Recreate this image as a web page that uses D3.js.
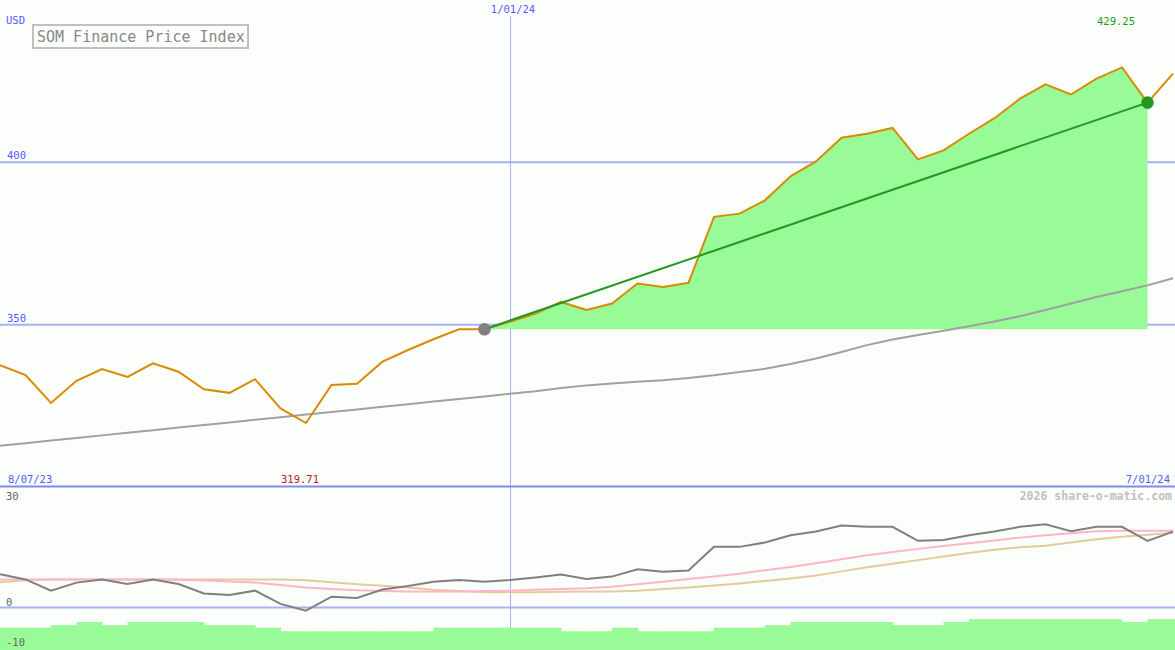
<!DOCTYPE html>
<html><head><meta charset="utf-8">
<script src="https://cdn.jsdelivr.net/npm/d3@7/dist/d3.min.js"></script>
<style>body{margin:0;background:#fcfefc}svg{display:block}</style>
</head><body><svg id="c" width="1175" height="650"></svg>
<script>
// weekly closes of the index
const price = [337.5,334.5,325.9,332.7,336.3,333.9,338.1,335.5,330.1,329.0,
  333.2,324.2,319.71,331.4,331.8,338.6,342.2,345.5,348.6,348.6,
  350.9,353.4,357.0,354.5,356.5,362.7,361.6,362.9,383.2,384.2,
  388.3,395.7,400.3,407.6,408.8,410.6,400.9,403.7,408.8,413.6,
  419.6,424.0,420.9,425.8,429.25,418.4,427.3];
// long moving average (grey)
const priceMA = [312.7,313.5,314.3,315.1,315.9,316.7,317.5,318.3,319.1,319.9,
  320.7,321.5,322.3,323.1,323.9,324.7,325.5,326.3,327.1,327.9,
  328.7,329.5,330.5,331.3,331.9,332.4,332.9,333.6,334.4,335.4,
  336.4,337.9,339.6,341.6,343.7,345.4,346.8,348.1,349.5,351.0,
  352.6,354.5,356.5,358.5,360.3,362.1,364.3];
// lower panel oscillator (grey)
const osc = [8.3,7.0,4.2,6.2,7.0,5.85,7.0,5.85,3.5,3.1,
  4.2,0.9,-0.8,2.7,2.4,4.5,5.35,6.4,6.85,6.4,
  6.85,7.5,8.2,7.1,7.7,9.5,8.9,9.2,15.1,15.1,
  16.2,18.0,18.9,20.4,20.1,20.1,16.6,16.8,18.0,18.9,
  20.1,20.7,19.0,20.1,20.1,16.6,18.9];
// oscillator averages
const oscFast = [7,7,7,7,7,7,7,6.9,6.7,6.5,
  6.2,5.6,5.0,4.6,4.3,4.1,4.0,4.0,4.0,4.1,
  4.2,4.4,4.6,4.8,5.2,5.8,6.4,7.1,7.7,8.4,
  9.3,10.1,11.0,12.0,13.0,13.8,14.6,15.3,16.0,16.7,
  17.4,18.0,18.5,19.0,19.1,19.1,19.1];
const oscSlow = [6.3,6.8,7,7,7,7,7,7,7,7,
  7,7,6.8,6.3,5.8,5.4,5.0,4.4,4.1,3.8,
  3.8,3.8,3.9,4.0,4.0,4.2,4.6,5.0,5.5,6.0,
  6.6,7.2,8.0,9.0,10.0,10.9,11.8,12.7,13.6,14.4,
  15.0,15.4,16.2,17.0,17.6,18.1,18.6];
// lower panel bars
const bars = [-5.0,-5.0,-4.4,-3.6,-4.4,-3.6,-3.6,-3.6,-4.4,-4.4,
  -5.0,-5.9,-5.9,-5.9,-5.9,-5.9,-5.9,-5.0,-5.0,-5.0,
  -5.0,-5.0,-5.9,-5.9,-5.0,-5.9,-5.9,-5.9,-5.0,-5.0,
  -4.4,-3.6,-3.6,-3.6,-3.6,-4.4,-4.4,-3.6,-2.9,-2.9,
  -2.9,-2.9,-2.9,-2.9,-3.6,-2.9,-2.9];
const priceTicks = [350, 400];
const oscTicks = [30, 0, -10];
const dateLabels = ["8/07/23", "1/01/24", "7/01/24"];
const markIndex = 20;      // 1/01/24
const trendStart = 19, trendEnd = 45;

const W = 1175, H = 650;
const svg = d3.select("#c");
const mono = "'DejaVu Sans Mono', monospace";
const blue = "#4f5cff", grid = "#a6b2f4";

const x = d3.scaleLinear().domain([0, price.length - 1]).range([0, 1173]);
const y = d3.scaleLinear().domain([300, 450]).range([487, 0]);
const y2 = d3.scaleLinear().domain([-10, 30]).range([647.7, 487]);

svg.append("rect").attr("width", W).attr("height", H).attr("fill", "#fcfefc");

// grid lines
svg.selectAll(".pg").data(priceTicks).join("line")
  .attr("x1", 0).attr("x2", W).attr("y1", d => y(d)).attr("y2", d => y(d))
  .attr("stroke", grid).attr("stroke-width", 2);
svg.append("line").attr("x1", 0).attr("x2", W).attr("y1", y2(0)).attr("y2", y2(0))
  .attr("stroke", grid).attr("stroke-width", 2);
// vertical marker
svg.append("line").attr("x1", x(markIndex) + 0.5).attr("x2", x(markIndex) + 0.5)
  .attr("y1", 16).attr("y2", H).attr("stroke", grid).attr("stroke-width", 1);

// gain area
const seg = d3.range(trendStart, trendEnd + 1);
const base = price[trendStart];
svg.append("path").datum(seg)
  .attr("d", d3.area().x(i => x(i)).y0(y(base)).y1(i => y(price[i])))
  .attr("fill", "#98fb98");

// moving average
svg.append("path").datum(priceMA)
  .attr("d", d3.line().x((d, i) => x(i)).y(d => y(d)))
  .attr("fill", "none").attr("stroke", "#a0a0a0").attr("stroke-width", 2);

// price
svg.append("path").datum(price)
  .attr("d", d3.line().x((d, i) => x(i)).y(d => y(d)))
  .attr("fill", "none").attr("stroke", "#d98a00").attr("stroke-width", 2);

// trend line
svg.append("line")
  .attr("x1", x(trendStart)).attr("y1", y(price[trendStart]))
  .attr("x2", x(trendEnd)).attr("y2", y(price[trendEnd]))
  .attr("stroke", "#229922").attr("stroke-width", 2);
svg.append("circle").attr("cx", x(trendStart)).attr("cy", y(price[trendStart]))
  .attr("r", 6.3).attr("fill", "#808080");
svg.append("circle").attr("cx", x(trendEnd)).attr("cy", y(price[trendEnd]))
  .attr("r", 6.3).attr("fill", "#229922");

// separator
svg.append("line").attr("x1", 0).attr("x2", W).attr("y1", 486.5).attr("y2", 486.5)
  .attr("stroke", "#7b8cf0").attr("stroke-width", 2);

// lower panel bars
svg.selectAll(".bar").data(bars).join("rect")
  .attr("x", (d, i) => x(i)).attr("width", (d, i) => x(i + 1) - x(i) + 0.5)
  .attr("y", d => y2(d)).attr("height", d => H - y2(d))
  .attr("fill", "#98fb98");

const l2 = d3.line().x((d, i) => x(i)).y(d => y2(d));
svg.append("path").datum(oscSlow).attr("d", l2)
  .attr("fill", "none").attr("stroke", "#e2cc9c").attr("stroke-width", 2);
svg.append("path").datum(oscFast).attr("d", l2)
  .attr("fill", "none").attr("stroke", "#ffb4c8").attr("stroke-width", 2);
svg.append("path").datum(osc).attr("d", l2)
  .attr("fill", "none").attr("stroke", "#808080").attr("stroke-width", 2);

// labels
const txt = (t, xx, yy, o = {}) => svg.append("text").text(t)
  .attr("x", xx).attr("y", yy).attr("font-family", mono)
  .attr("font-size", o.size || 10.5).attr("fill", o.fill || blue)
  .attr("text-anchor", o.anchor || "start")
  .attr("font-weight", o.weight || "normal");

txt("USD", 6, 24);
priceTicks.forEach(v => txt(String(v), 7, y(v) - 3));
oscTicks.forEach(v => txt(String(v), 6, v === 30 ? y2(v) + 12.5 : y2(v) - 2, {fill: "#666"}));
txt(dateLabels[0], 8, 483);
txt(dateLabels[1], x(markIndex) + 3, 13, {anchor: "middle"});
txt(dateLabels[2], 1170, 483, {anchor: "end"});

const minI = price.indexOf(d3.min(price)), maxI = price.indexOf(d3.max(price));
txt(d3.min(price).toFixed(2), x(minI) - 6, 483, {anchor: "middle", fill: "#b22222"});
txt(d3.max(price).toFixed(2), x(maxI) - 6, 25, {anchor: "middle", fill: "#229922"});

txt("2026 share-o-matic.com", 1172, 500, {anchor: "end", fill: "#c0c0c0", size: 11.5, weight: "bold"});

// title box
svg.append("rect").attr("x", 33).attr("y", 25).attr("width", 215).attr("height", 23)
  .attr("fill", "#fcfefc").attr("stroke", "#c0c0c0").attr("stroke-width", 2);
txt("SOM Finance Price Index", 37, 41.5, {fill: "#888", size: 15});
</script></body></html>
